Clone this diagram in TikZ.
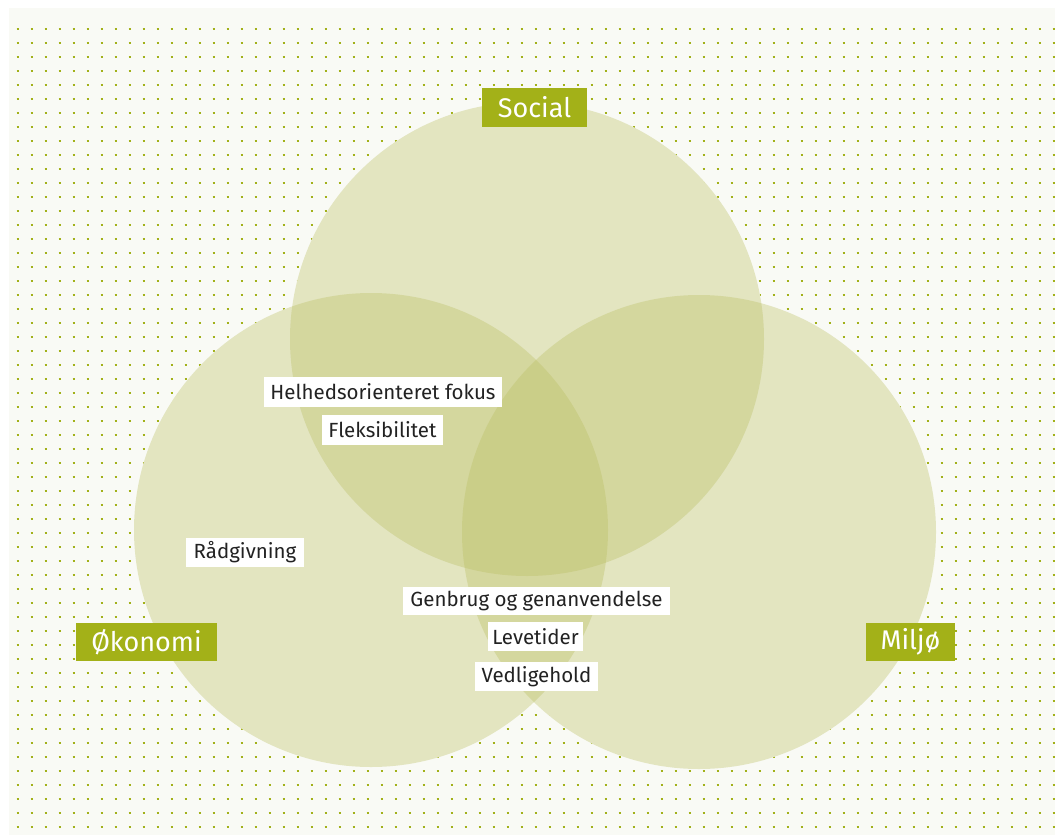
\documentclass[tikz,border=0pt]{standalone}
\usepackage{fontspec}
\setmainfont{Fira Sans}
\definecolor{bgc}{HTML}{F9FAF5}
\definecolor{dotc}{HTML}{A2B11A}
\definecolor{circc}{HTML}{BABE60}
\definecolor{labc}{HTML}{A3B118}
\definecolor{txtc}{HTML}{222222}
\begin{document}
\begin{tikzpicture}[x=1pt,y=-1pt,
  lab/.style={fill=labc,text=white,inner sep=0pt,font=\fontsize{27}{30}\selectfont},
  tag/.style={fill=white,text=txtc,inner sep=0pt,font=\fontsize{20.5}{23}\selectfont},
  circ/.style={fill=circc,fill opacity=0.35}]
\useasboundingbox (0,0) rectangle (1055,835);
\fill[white] (0,0) rectangle (1055,835);
\fill[bgc] (9,8) rectangle (1055,835);
% dots
\foreach \r in {0,...,57}{
  \draw[dotc,line width=2.8pt,dash pattern=on 2.8pt off 11.2pt] (16.6,29+14*\r) -- (1056,29+14*\r);
}
% circles
\coordinate (cs) at (527,339);
\coordinate (ce) at (371,530);
\coordinate (cm) at (699,532);
\fill[bgc] (cs) circle[radius=237pt] (ce) circle[radius=237pt] (cm) circle[radius=237pt];
\fill[circ] (cs) circle[radius=237pt];
\fill[circ] (ce) circle[radius=237pt];
\fill[circ] (cm) circle[radius=237pt];
% labels
\node[lab,minimum width=105pt,minimum height=39pt] (social) at (534.5,107.5) {Social};
\node[lab,minimum width=141pt,minimum height=38pt] (okonomi) at (146.5,642) {Økonomi};
\node[lab,minimum width=89pt,minimum height=38pt] (miljo) at (910.5,642) {Miljø};
% tags
\node[tag,minimum width=238pt,minimum height=30pt] (helhed) at (383,392) {Helhedsorienteret fokus};
\node[tag,minimum width=121pt,minimum height=30pt] (fleks) at (382.5,430) {Fleksibilitet};
\node[tag,minimum width=118pt,minimum height=29pt] (raad) at (245,552.5) {Rådgivning};
\node[tag,minimum width=267pt,minimum height=28pt] (genbrug) at (536.5,601) {Genbrug og genanvendelse};
\node[tag,minimum width=95pt,minimum height=29pt] (levetid) at (535.5,636.5) {Levetider};
\node[tag,minimum width=123pt,minimum height=29pt] (vedl) at (536.5,676.5) {Vedligehold};
\end{tikzpicture}
\end{document}
